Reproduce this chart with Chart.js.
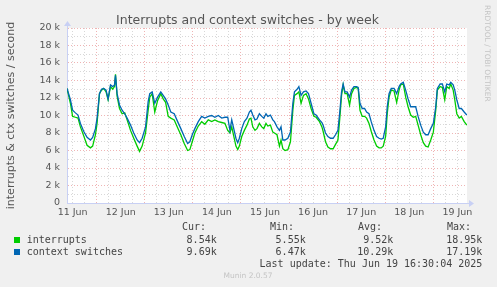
<!DOCTYPE html>
<html>
<head>
<meta charset="utf-8">
<script src="https://cdn.jsdelivr.net/npm/chart.js@4/dist/chart.umd.min.js"></script>
<style>
  body { margin: 0; background: #f0f0f0; }
  #wrap { position: relative; width: 497px; height: 287px; overflow: hidden; font-family: 'DejaVu Sans', sans-serif; color: #555; }
  #chart { position: absolute; left: 0; top: 0; }
  .txt { position: absolute; white-space: pre; }
  .mono { font-family: 'DejaVu Sans Mono', monospace; font-size: 10px; line-height: 12px; color: #444; }
  .box { position: absolute; width: 6px; height: 6px; }
</style>
</head>
<body>
<div id="wrap">
  <canvas id="chart" width="497" height="287"></canvas>
  <div class="txt" style="left:-1px; top:12px; width:497px; text-align:center; font-size:12.5px; line-height:15px;">Interrupts and context switches - by week</div>
  <div class="txt" style="left:483px; top:5px; writing-mode:vertical-rl; font-size:7.5px; line-height:9px; color:#c4c4c4;">RRDTOOL / TOBI OETIKER</div>
  <div class="txt" style="left:198px; top:271px; width:100px; text-align:center; font-size:7.5px; line-height:9px; color:#c4c4c4;">Munin 2.0.57</div>
</div>
<script>
'use strict';
// ---------------------- Data (hours since 11 Jun 00:00, values in k/s) -----------------
const hours = [
  9.2, 10.9, 12.0, 13.4, 14.7, 15.9, 17.5, 19.2, 20.9, 22.0, 23.4, 24.2, 25.4, 26.4, 27.5, 28.7,
  29.7, 30.9, 32.0, 32.9, 33.4, 34.2, 35.4, 36.7, 38.0, 39.2, 40.9, 42.5, 44.2, 45.4, 46.7, 48.4,
  49.7, 50.5, 51.7, 53.0, 54.4, 56.0, 57.2, 58.4, 59.7, 61.0, 62.7, 64.4, 66.0, 67.7, 69.4, 70.5,
  71.7, 73.0, 74.7, 76.4, 78.0, 79.7, 81.4, 83.0, 84.7, 86.4, 88.0, 89.4, 90.5, 91.4,
  93.5, 94.4, 95.2, 96.4, 97.7, 99.0, 100.2, 101.0, 101.9, 103.0, 104.0, 105.2, 106.4, 107.4,
  108.5, 109.4, 110.7, 111.9, 112.7, 114.0, 115.2, 116.0, 116.9, 118.0, 119.4, 120.7, 121.9,
  122.7, 124.0, 124.9, 126.0, 127.2, 128.5, 129.7, 131.0, 132.4, 133.5, 135.2, 136.4,
  137.0, 138.2, 139.4, 140.7, 142.0, 143.2, 144.4, 145.4, 146.2, 147.0, 147.9, 149.0, 150.2,
  151.2, 152.4, 153.7, 154.5, 155.4, 156.5, 157.7, 158.7, 159.9, 161.0, 162.4, 163.7, 164.9,
  166.0, 167.0, 168.2, 169.0, 169.9, 171.0, 172.4, 173.7, 174.9,
  175.7, 177.0, 178.2, 179.4, 180.7, 182.0, 183.2, 184.4, 185.7, 187.0, 188.2, 189.4, 190.7,
  192.0, 193.2, 194.0, 195.4, 196.5, 197.7, 198.7, 199.9, 200.7, 201.9, 202.7, 203.7, 204.9,
  206.0, 207.4, 208.7
];
const interrupts = [
  13.1, 11.4, 9.9, 9.8, 9.7, 8.7, 7.7, 6.6, 6.3, 6.5, 7.8, 9.1, 12.5, 12.9, 13.1, 12.7,
  11.8, 13.3, 13.0, 13.3, 14.7, 12.2, 10.8, 10.2, 10.3, 9.5, 8.3, 7.4, 6.5, 5.9, 6.5, 8.0,
  10.6, 12.1, 12.5, 10.4, 11.7, 12.5, 11.9, 11.5, 9.9, 9.7, 9.5, 8.6, 7.8, 6.8, 6.0, 6.1,
  7.0, 8.0, 8.8, 9.3, 9.0, 9.5, 9.3, 9.5, 9.3, 9.2, 9.1, 8.3, 8.0, 8.7,
  6.5, 6.1, 6.5, 7.6, 8.3, 8.9, 9.6, 9.7, 8.7, 8.3, 8.5, 9.1, 8.7, 8.5,
  9.1, 8.8, 8.9, 8.1, 8.0, 7.8, 6.5, 7.2, 6.2, 6.0, 6.1, 7.0, 10.6,
  12.3, 12.5, 12.7, 11.4, 12.3, 12.5, 11.9, 10.8, 9.9, 9.8, 9.3, 8.7,
  8.2, 7.0, 6.4, 6.2, 6.2, 6.7, 7.2, 9.9, 12.3, 13.5, 12.5, 12.5, 11.2,
  12.5, 13.1, 13.2, 13.1, 10.6, 9.9, 9.9, 9.7, 9.1, 8.2, 7.2, 6.5, 6.3,
  6.3, 6.5, 7.6, 10.2, 12.1, 12.9, 12.8, 11.5, 12.9,
  13.5, 13.6, 12.1, 11.0, 10.05, 9.8, 9.9, 8.9, 7.8, 6.9, 6.5, 6.4, 7.2,
  8.1, 10.6, 12.9, 13.3, 13.2, 11.8, 13.3, 13.1, 13.6, 12.9, 11.8, 10.2,
  9.7, 9.9, 9.3, 8.9
];
const contextSwitches = [
  13.1, 11.8, 10.6, 10.3, 10.05, 9.1, 8.2, 7.5, 7.2, 7.5, 8.5, 9.7, 12.5, 13.0, 13.1, 12.9,
  11.9, 13.5, 13.3, 13.5, 14.6, 12.5, 11.2, 10.6, 10.2, 9.7, 8.9, 8.0, 7.2, 6.9, 7.4, 8.7,
  11.6, 12.5, 12.7, 11.4, 12.1, 12.7, 12.3, 11.9, 11.2, 10.4, 10.2, 9.3, 8.5, 7.6, 6.8, 7.0,
  7.8, 8.5, 9.3, 9.9, 9.7, 9.9, 10.0, 9.8, 10.0, 9.7, 9.8, 9.8, 8.3, 9.5,
  7.4, 6.9, 7.4, 8.5, 9.3, 9.7, 10.4, 10.6, 10.05, 9.5, 9.6, 10.2, 9.9, 9.7,
  10.2, 9.9, 10.05, 9.5, 9.3, 8.7, 8.3, 8.7, 7.2, 7.2, 7.4, 8.1, 11.4,
  12.7, 13.0, 13.3, 12.3, 12.7, 12.8, 12.5, 11.4, 10.2, 10.05, 9.5, 9.2,
  8.9, 8.0, 7.6, 7.4, 7.4, 7.8, 8.3, 10.6, 12.7, 13.6, 12.7, 12.7, 12.1,
  12.9, 13.3, 13.3, 13.2, 11.4, 10.8, 10.8, 10.4, 10.2, 9.3, 8.3, 7.6, 7.4,
  7.3, 7.4, 8.7, 11.0, 12.5, 13.1, 13.1, 12.5, 13.3,
  13.6, 13.8, 12.9, 11.9, 11.0, 11.0, 11.0, 9.9, 8.9, 8.1, 7.8, 7.8, 8.5,
  9.1, 11.0, 13.1, 13.6, 13.6, 12.7, 13.6, 13.5, 13.8, 13.5, 12.9, 11.8,
  10.8, 10.8, 10.4, 10.05
];
const dayLabels = ['11 Jun', '12 Jun', '13 Jun', '14 Jun', '15 Jun', '16 Jun', '17 Jun', '18 Jun', '19 Jun'];
const seriesNames = ['interrupts', 'context switches'];
const seriesColors = ['#00cc00', '#0066b3'];
const legendCur = ['8.54k', '9.69k'];
const legendMin = ['5.55k', '6.47k'];
const legendAvg = ['9.52k', '10.29k'];
const legendMax = ['18.95k', '17.19k'];
const lastUpdate = 'Last update: Thu Jun 19 16:30:04 2025';

// ---------------------- Styles -----------------
const majorGrid = '#efb4b4';
const minorGrid = '#d8d8d8';
const axisColor = '#c8d0f4';
const wrap = document.getElementById('wrap');

// ---------------------- Helpers -----------------
function makeText(text, style, className) {
  const elem = document.createElement('div');
  elem.className = 'txt ' + (className || '');
  elem.textContent = text;
  for (let key in style) {
    elem.style[key] = style[key];
  }
  wrap.appendChild(elem);
  return elem;
}

function toPoints(values) {
  return hours.map((h, i) => ({ x: h, y: values[i] }));
}

function renderLegend() {
  const heads = [['Cur:', 182], ['Min:', 270], ['Avg:', 358], ['Max:', 447]];
  for (let head of heads) {
    makeText(head[0], { left: head[1] + 'px', top: '221px' }, 'mono');
  }
  const rights = [216.7, 305.7, 393.3, 482.3];
  for (let i = 0; i < seriesNames.length; i++) {
    const top = 234 + i * 12;
    const box = document.createElement('div');
    box.className = 'box';
    box.style.left = '14px';
    box.style.top = (top + 3) + 'px';
    box.style.background = seriesColors[i];
    wrap.appendChild(box);
    makeText(seriesNames[i], { left: '26.7px', top: top + 'px' }, 'mono');
    const cols = [legendCur[i], legendMin[i], legendAvg[i], legendMax[i]];
    for (let c = 0; c < cols.length; c++) {
      makeText(cols[c], { right: (497 - rights[c]) + 'px', top: top + 'px' }, 'mono');
    }
  }
  makeText(lastUpdate, { right: (497 - 482.3) + 'px', top: '257.7px' }, 'mono');
}

// rrdtool style white canvas + axis arrows
const plotDecor = {
  id: 'plotDecor',
  beforeDraw(chart) {
    const { ctx, chartArea: a } = chart;
    ctx.save();
    ctx.fillStyle = '#ffffff';
    ctx.fillRect(a.left, a.top, a.right - a.left, a.bottom - a.top);
    ctx.restore();
  },
  afterDraw(chart) {
    const { ctx, chartArea: a } = chart;
    const x0 = Math.round(a.left) + 0.5;
    const y0 = Math.round(a.bottom) + 0.5;
    ctx.save();
    ctx.strokeStyle = axisColor;
    ctx.fillStyle = axisColor;
    ctx.lineWidth = 1;
    ctx.beginPath();
    ctx.moveTo(x0, a.top);
    ctx.lineTo(x0, a.top - 3);
    ctx.moveTo(a.right, y0);
    ctx.lineTo(a.right + 3, y0);
    ctx.stroke();
    ctx.beginPath();
    ctx.moveTo(x0, a.top - 7);
    ctx.lineTo(x0 - 3.5, a.top - 2);
    ctx.lineTo(x0 + 3.5, a.top - 2);
    ctx.fill();
    ctx.beginPath();
    ctx.moveTo(a.right + 7, y0);
    ctx.lineTo(a.right + 2, y0 - 3.5);
    ctx.lineTo(a.right + 2, y0 + 3.5);
    ctx.fill();
    ctx.restore();
  }
};

// ---------------------- Chart -----------------
function renderChart() {
  const context = document.getElementById('chart').getContext('2d');
  const datasets = [];
  const seriesData = [interrupts, contextSwitches];
  for (let i = 0; i < seriesNames.length; i++) {
    datasets.push({
      label: seriesNames[i],
      data: toPoints(seriesData[i]),
      borderColor: seriesColors[i],
      borderWidth: 1.3,
      pointRadius: 0,
      fill: false,
      tension: 0,
      order: seriesNames.length - i
    });
  }
  new Chart(context, {
    type: 'line',
    data: { datasets: datasets },
    options: {
      responsive: false,
      animation: false,
      events: [],
      layout: { padding: { top: 28, right: 30, left: 0, bottom: 0 } },
      plugins: {
        legend: { display: false },
        title: { display: false },
        tooltip: { enabled: false }
      },
      scales: {
        x: {
          type: 'linear',
          min: 9.2,
          max: 208.8,
          afterBuildTicks(scale) {
            const ticks = [];
            for (let h = 12; h <= 204; h += 6) {
              ticks.push({ value: h });
            }
            scale.ticks = ticks;
          },
          afterFit(scale) {
            scale.height = 84;
          },
          grid: {
            drawTicks: false,
            lineWidth: 1,
            color: (ctx) => (ctx.tick && ctx.tick.value % 24 === 0 ? majorGrid : minorGrid)
          },
          border: { color: axisColor, width: 1, dash: [1, 2] },
          ticks: {
            autoSkip: false,
            maxRotation: 0,
            padding: 4,
            color: '#555',
            font: { family: 'DejaVu Sans', size: 9.5 },
            callback: (value) => (value % 24 === 12 ? dayLabels[Math.floor(value / 24)] : '')
          }
        },
        y: {
          min: 0,
          max: 20,
          afterBuildTicks(scale) {
            const ticks = [];
            for (let v = 0; v <= 20; v++) {
              ticks.push({ value: v });
            }
            scale.ticks = ticks;
          },
          afterFit(scale) {
            scale.width = 67;
          },
          grid: {
            drawTicks: false,
            lineWidth: 1,
            color: (ctx) => (ctx.tick && ctx.tick.value % 2 === 0 ? majorGrid : minorGrid)
          },
          border: { color: axisColor, width: 1, dash: [1, 2] },
          ticks: {
            autoSkip: false,
            padding: 7,
            color: '#555',
            font: { family: 'DejaVu Sans', size: 9.5 },
            callback: (value) => (value % 2 !== 0 ? '' : value === 0 ? '0' : `${value} k`)
          },
          title: {
            display: true,
            text: 'interrupts & ctx switches / second',
            color: '#555',
            font: { family: 'DejaVu Sans', size: 11 },
            padding: { top: 5, bottom: 0 }
          }
        }
      }
    },
    plugins: [plotDecor]
  });
}

renderChart();
renderLegend();
</script>
</body>
</html>
